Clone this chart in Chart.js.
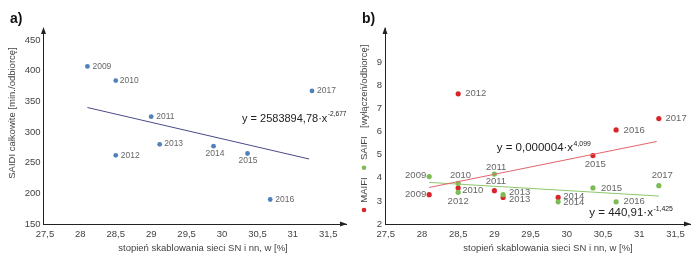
<!DOCTYPE html>
<html>
<head>
<meta charset="utf-8">
<script src="https://cdn.jsdelivr.net/npm/chart.js@4.4.1/dist/chart.umd.min.js"></script>
<style>
  body { margin: 0; background: #fff; }
  #wrap { display: flex; width: 700px; height: 258px; }
  canvas { display: block; }
</style>
</head>
<body>
<div id="wrap">
  <canvas id="chartA" width="350" height="258"></canvas>
  <canvas id="chartB" width="350" height="258"></canvas>
</div>
<script>
// data
const years = ['2009', '2010', '2011', '2012', '2013', '2014', '2015', '2016', '2017'];
const cabling = [28.1, 28.5, 29.0, 28.5, 29.12, 29.88, 30.36, 30.68, 31.27];
const saidi = [407, 384, 325, 262, 280, 277, 265, 190, 367];
const maifi = [3.27, 3.56, 3.44, 7.63, 3.15, 3.15, 4.96, 6.07, 6.56];
const saifi = [4.05, 3.76, 4.16, 3.37, 3.27, 2.96, 3.56, 2.96, 3.66];
const saidiTrend = [[28.1, 340], [31.23, 256]];
const maifiTrend = [[28.1, 3.58], [31.24, 5.57]];
const saifiTrend = [[28.1, 3.8], [31.27, 3.21]];
const xTicks = [27.5, 28, 28.5, 29, 29.5, 30, 30.5, 31, 31.5];
const saidiTicks = [150, 200, 250, 300, 350, 400, 450];
const freqTicks = [2, 3, 4, 5, 6, 7, 8, 9];

const FONT = "'Liberation Sans', Arial, sans-serif";
const BLUE = '#4f81bd', RED = '#d7262b', GREEN = '#7cbb55';

const toPts = (xs, ys) => xs.map((x, i) => ({x: x, y: ys[i]}));
const toLine = arr => arr.map(p => ({x: p[0], y: p[1]}));
const comma = v => String(v).replace('.', ',');

// where each year label goes relative to its point: [dx, dy, align]
const R = (dx = 5, dy = 0) => [dx, dy, 'left'];
const L = (dx = -4, dy = 0) => [dx, dy, 'right'];
const C = (dx, dy) => [dx, dy, 'center'];
const placement = {
  saidi: [R(), R(4), R(), R(), R(4.5, -1), C(1.5, 7.5), C(0.5, 7.5), R(), R()],
  maifi: [L(-3), R(4, 2.5), C(1.5, -9), R(7), R(6, 2.3), R(5, -0.7), C(2.3, 9), R(7.5), R(6.7)],
  saifi: [L(-3, -1), C(2.3, -7.7), C(1.7, -6.6), C(0, 9), R(6, -2.3), R(5, 0.7), R(8), R(7.5), C(3.4, -10)]
};

const labelPlugin = {
  id: 'yearLabels',
  afterDatasetsDraw(chart, args, opts) {
    const ctx = chart.ctx;
    ctx.save();
    ctx.font = opts.size + 'px ' + FONT;
    ctx.fillStyle = '#666';
    ctx.textBaseline = 'middle';
    chart.data.datasets.forEach((ds, di) => {
      const pl = placement[ds.key];
      if (!pl) return;
      chart.getDatasetMeta(di).data.forEach((el, i) => {
        const [dx, dy, align] = pl[i];
        ctx.textAlign = align;
        ctx.fillText(years[i], el.x + dx, el.y + dy);
      });
    });
    ctx.restore();
  }
};

const decorPlugin = {
  id: 'decor',
  afterDraw(chart, args, opts) {
    const {ctx, chartArea: a} = chart;
    ctx.save();
    // axis arrows
    ctx.fillStyle = '#222';
    ctx.beginPath();
    ctx.moveTo(a.left, a.top - 1);
    ctx.lineTo(a.left - 2.5, a.top + 6);
    ctx.lineTo(a.left + 2.5, a.top + 6);
    ctx.fill();
    ctx.beginPath();
    ctx.moveTo(a.right + 1, a.bottom);
    ctx.lineTo(a.right - 6, a.bottom - 2.5);
    ctx.lineTo(a.right - 6, a.bottom + 2.5);
    ctx.fill();

    // panel letter
    ctx.fillStyle = '#111';
    ctx.font = 'bold 14px ' + FONT;
    ctx.textBaseline = 'middle';
    ctx.textAlign = 'left';
    ctx.fillText(opts.letter, opts.letterX, 19);

    // x title
    ctx.fillStyle = '#444';
    ctx.font = '9.5px ' + FONT;
    ctx.textAlign = 'center';
    ctx.fillText('stopień skablowania sieci SN i nn, w [%]', opts.xTitleX, 248);

    // equations
    opts.equations.forEach(eq => {
      ctx.fillStyle = '#222';
      ctx.textAlign = 'left';
      ctx.font = eq.size + 'px ' + FONT;
      ctx.fillText(eq.text, eq.x, eq.y);
      const w = ctx.measureText(eq.text).width;
      ctx.font = (eq.size * 0.6) + 'px ' + FONT;
      ctx.fillText(eq.sup, eq.x + w + 0.5, eq.y - eq.size * 0.4);
    });

    // y title
    ctx.fillStyle = '#444';
    ctx.font = '9.5px ' + FONT;
    if (opts.yTitle) {
      ctx.save();
      ctx.translate(12, 113);
      ctx.rotate(-Math.PI / 2);
      ctx.textAlign = 'center';
      ctx.fillText(opts.yTitle, 0, 0);
      ctx.restore();
    } else {
      ctx.save();
      ctx.translate(14, 210);
      ctx.rotate(-Math.PI / 2);
      ctx.textAlign = 'left';
      ctx.fillStyle = RED;
      ctx.beginPath(); ctx.arc(0, 0, 2.3, 0, Math.PI * 2); ctx.fill();
      ctx.fillStyle = GREEN;
      ctx.beginPath(); ctx.arc(42.3, 0, 2.3, 0, Math.PI * 2); ctx.fill();
      ctx.fillStyle = '#444';
      ctx.fillText('MAIFI', 7.3, 0);
      ctx.fillText('SAIFI', 50, 0);
      ctx.fillText('[wyłączeń/odbiorcę]', 82, 0);
      ctx.restore();
    }
    ctx.restore();
  }
};

function axes(yMin, yMax, yTickVals, yWidth, xMin, xMax) {
  const tickFont = {family: FONT, size: 9.5};
  return {
    x: {
      type: 'linear', min: xMin, max: xMax,
      afterBuildTicks: s => { s.ticks = xTicks.map(v => ({value: v})); },
      afterFit: s => { s.height = 34; },
      grid: {display: false, drawTicks: false},
      border: {display: true, color: '#222', width: 1},
      ticks: {font: tickFont, color: '#444', padding: 5, maxRotation: 0, callback: comma}
    },
    y: {
      type: 'linear', min: yMin, max: yMax,
      afterBuildTicks: s => { s.ticks = yTickVals.map(v => ({value: v})); },
      afterFit: s => { s.width = yWidth; },
      grid: {display: false, drawTicks: false},
      border: {display: true, color: '#222', width: 1},
      ticks: {font: tickFont, color: '#444', padding: 3, callback: comma}
    }
  };
}

const common = {
  responsive: false,
  animation: false,
  events: [],
  plugins: {legend: {display: false}, tooltip: {enabled: false}}
};

new Chart(document.getElementById('chartA'), {
  type: 'scatter',
  data: {
    datasets: [
      {key: 'trend', type: 'line', data: toLine(saidiTrend), borderColor: '#4a4a8a', borderWidth: 1,
       pointRadius: 0, fill: false},
      {key: 'saidi', data: toPts(cabling, saidi), backgroundColor: BLUE, borderWidth: 0, pointRadius: 2.4}
    ]
  },
  options: {
    ...common,
    layout: {padding: {left: 0, right: 1, top: 28, bottom: 0}},
    scales: axes(150, 469.7, saidiTicks, 43.5, 27.48, 31.75),
    plugins: {
      ...common.plugins,
      yearLabels: {size: 8.5},
      decor: {
        letter: 'a)', letterX: 10, xTitleX: 203,
        yTitle: 'SAIDI całkowite [min./odbiorcę]',
        equations: [{text: 'y = 2583894,78·x', sup: '-2,677', x: 242, y: 118.5, size: 11}]
      }
    }
  },
  plugins: [labelPlugin, decorPlugin]
});

new Chart(document.getElementById('chartB'), {
  type: 'scatter',
  data: {
    datasets: [
      {key: 'trendM', type: 'line', data: toLine(maifiTrend), borderColor: '#e0656b', borderWidth: 1,
       pointRadius: 0, fill: false},
      {key: 'trendS', type: 'line', data: toLine(saifiTrend), borderColor: '#8cc86a', borderWidth: 1,
       pointRadius: 0, fill: false},
      {key: 'saifi', data: toPts(cabling, saifi), backgroundColor: GREEN, borderWidth: 0, pointRadius: 2.6},
      {key: 'maifi', data: toPts(cabling, maifi), backgroundColor: RED, borderWidth: 0, pointRadius: 2.6}
    ]
  },
  options: {
    ...common,
    layout: {padding: {left: 0, right: 10, top: 28, bottom: 0}},
    scales: axes(2, 10.48, freqTicks, 35, 27.49, 31.7),
    plugins: {
      ...common.plugins,
      yearLabels: {size: 9.5},
      decor: {
        letter: 'b)', letterX: 12, xTitleX: 198,
        yTitle: null,
        equations: [
          {text: 'y = 0,000004·x', sup: '4,099', x: 146.7, y: 148.3, size: 11.5},
          {text: 'y = 440,91·x', sup: '-1,425', x: 239.3, y: 213.3, size: 11.5}
        ]
      }
    }
  },
  plugins: [labelPlugin, decorPlugin]
});
</script>
</body>
</html>
